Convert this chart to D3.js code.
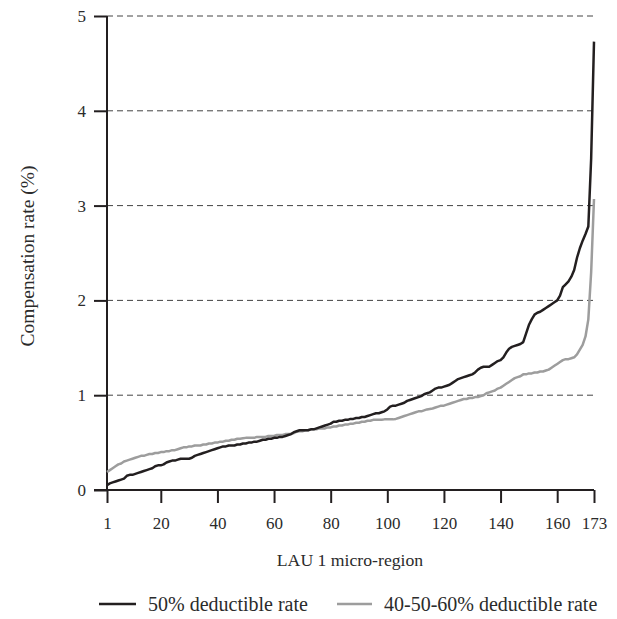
<!DOCTYPE html>
<html>
<head>
<meta charset="utf-8">
<script src="https://cdn.jsdelivr.net/npm/d3@7"></script>
<style>
  html, body { margin: 0; padding: 0; background: #fff; }
  svg { display: block; font-family: "Liberation Serif", "Times New Roman", serif; }
</style>
</head>
<body>
<svg id="chart" width="617" height="619"></svg>
<script>
// ---- data ----
const regions = d3.range(1, 174); // LAU 1 micro-regions 1..173 (sorted)
const xTickValues = [1, 20, 40, 60, 80, 100, 120, 140, 160, 173];
const yTickValues = [0, 1, 2, 3, 4, 5];
const seriesNames = ["50% deductible rate", "40-50-60% deductible rate"];

const rate50 = [
  0.05, 0.07, 0.08, 0.09, 0.10, 0.11, 0.12, 0.15, 0.16, 0.16,
  0.17, 0.18, 0.19, 0.20, 0.21, 0.22, 0.23, 0.25, 0.26, 0.26,
  0.27, 0.29, 0.30, 0.31, 0.31, 0.32, 0.33, 0.33, 0.33, 0.33,
  0.34, 0.36, 0.37, 0.38, 0.39, 0.40, 0.41, 0.42, 0.43, 0.44,
  0.45, 0.46, 0.46, 0.47, 0.47, 0.47, 0.48, 0.48, 0.49, 0.49,
  0.50, 0.50, 0.51, 0.51, 0.52, 0.53, 0.53, 0.54, 0.54, 0.55,
  0.55, 0.56, 0.56, 0.57, 0.58, 0.59, 0.61, 0.62, 0.63, 0.63,
  0.63, 0.63, 0.64, 0.64, 0.65, 0.66, 0.67, 0.68, 0.69, 0.70,
  0.72, 0.72, 0.73, 0.73, 0.74, 0.74, 0.75, 0.75, 0.76, 0.76,
  0.77, 0.77, 0.78, 0.79, 0.80, 0.81, 0.81, 0.82, 0.83, 0.85,
  0.88, 0.89, 0.89, 0.90, 0.91, 0.92, 0.94, 0.95, 0.96, 0.97,
  0.98, 0.99, 1.01, 1.02, 1.03, 1.05, 1.07, 1.08, 1.08, 1.09,
  1.10, 1.11, 1.13, 1.15, 1.17, 1.18, 1.19, 1.20, 1.21, 1.22,
  1.24, 1.27, 1.29, 1.30, 1.30, 1.30, 1.32, 1.34, 1.36, 1.37,
  1.40, 1.45, 1.49, 1.51, 1.52, 1.53, 1.54, 1.56, 1.65, 1.74,
  1.80, 1.85, 1.87, 1.88, 1.90, 1.92, 1.94, 1.96, 1.98, 2.00,
  2.05, 2.14, 2.17, 2.20, 2.25, 2.32, 2.45, 2.55, 2.63, 2.70,
  2.78, 3.50, 4.73
];

const rate405060 = [
  0.19, 0.21, 0.23, 0.25, 0.27, 0.28, 0.30, 0.31, 0.32, 0.33,
  0.34, 0.35, 0.36, 0.36, 0.37, 0.38, 0.38, 0.39, 0.39, 0.40,
  0.40, 0.41, 0.41, 0.42, 0.42, 0.43, 0.44, 0.45, 0.45, 0.46,
  0.46, 0.47, 0.47, 0.47, 0.48, 0.48, 0.49, 0.49, 0.50, 0.50,
  0.51, 0.51, 0.52, 0.52, 0.53, 0.53, 0.54, 0.54, 0.545, 0.55,
  0.55, 0.55, 0.55, 0.56, 0.56, 0.56, 0.56, 0.57, 0.57, 0.57,
  0.58, 0.58, 0.58, 0.59, 0.59, 0.59, 0.60, 0.615, 0.62, 0.62,
  0.63, 0.63, 0.64, 0.64, 0.64, 0.65, 0.65, 0.65, 0.66, 0.66,
  0.67, 0.67, 0.68, 0.68, 0.69, 0.69, 0.70, 0.70, 0.71, 0.71,
  0.72, 0.72, 0.73, 0.73, 0.74, 0.74, 0.74, 0.74, 0.745, 0.745,
  0.745, 0.745, 0.75, 0.76, 0.77, 0.78, 0.79, 0.80, 0.81, 0.82,
  0.83, 0.83, 0.84, 0.85, 0.855, 0.86, 0.87, 0.88, 0.89, 0.89,
  0.90, 0.91, 0.92, 0.93, 0.94, 0.95, 0.96, 0.96, 0.97, 0.97,
  0.98, 0.98, 0.99, 1.00, 1.02, 1.03, 1.04, 1.05, 1.07, 1.08,
  1.10, 1.12, 1.14, 1.16, 1.18, 1.19, 1.20, 1.22, 1.22, 1.23,
  1.23, 1.24, 1.24, 1.25, 1.25, 1.26, 1.27, 1.29, 1.31, 1.33,
  1.35, 1.37, 1.38, 1.38, 1.39, 1.40, 1.43, 1.48, 1.53, 1.62,
  1.80, 2.30, 3.07
];

// ---- layout ----
const svg = d3.select("#chart");
const plotLeft = 107, plotRight = 594, plotTop = 16, plotBottom = 490;
const ink = "#231f20";
const textInk = "#2b2b2b";
const greyLine = "#9d9d9d";
const tickFont = 17;

const x = d3.scaleLinear().domain([1, 173]).range([plotLeft, plotRight]);
const y = d3.scaleLinear().domain([0, 5]).range([plotBottom, plotTop]);

// gridlines
svg.append("g")
  .selectAll("line")
  .data(yTickValues.filter(v => v > 0))
  .join("line")
  .attr("x1", plotLeft).attr("x2", plotRight)
  .attr("y1", d => y(d)).attr("y2", d => y(d))
  .attr("stroke", "#444")
  .attr("stroke-width", 1)
  .attr("stroke-dasharray", "6,4");

// y axis
const yAxis = svg.append("g")
  .attr("transform", `translate(${plotLeft},0)`)
  .call(d3.axisLeft(y).tickValues(yTickValues).tickSize(13).tickPadding(8).tickFormat(d3.format("d")));
yAxis.select(".domain").attr("stroke", ink).attr("stroke-width", 2).attr("d", `M0,${plotTop}V${plotBottom}`);
yAxis.selectAll(".tick line").attr("stroke", ink).attr("stroke-width", 2);
yAxis.selectAll(".tick text").attr("fill", textInk).style("font-size", tickFont + "px")
  .style("font-family", "Liberation Serif, serif");

// x axis
const xAxis = svg.append("g")
  .attr("transform", `translate(0,${plotBottom})`)
  .call(d3.axisBottom(x).tickValues(xTickValues).tickSize(13).tickPadding(14).tickFormat(d3.format("d")));
xAxis.select(".domain").attr("stroke", ink).attr("stroke-width", 2).attr("d", `M${plotLeft - 13},0H${plotRight}`);
xAxis.selectAll(".tick line").attr("stroke", ink).attr("stroke-width", 2);
xAxis.selectAll(".tick text").attr("fill", textInk).style("font-size", tickFont + "px")
  .style("font-family", "Liberation Serif, serif");

// axis titles
svg.append("text")
  .attr("x", 350).attr("y", 566)
  .attr("text-anchor", "middle")
  .attr("fill", textInk)
  .style("font-size", "17.7px")
  .text("LAU 1 micro-region");

svg.append("text")
  .attr("transform", `translate(34,256) rotate(-90)`)
  .attr("text-anchor", "middle")
  .attr("fill", textInk)
  .style("font-size", "19.5px")
  .text("Compensation rate (%)");

// lines
const line = d3.line().x((d, i) => x(regions[i])).y(d => y(d));
svg.append("path").datum(rate405060)
  .attr("d", line).attr("fill", "none")
  .attr("stroke", greyLine).attr("stroke-width", 2.5).attr("stroke-linejoin", "round");
svg.append("path").datum(rate50)
  .attr("d", line).attr("fill", "none")
  .attr("stroke", ink).attr("stroke-width", 2.5).attr("stroke-linejoin", "round");

// legend
const legend = [
  { name: seriesNames[0], color: ink, x0: 99, x1: 136, tx: 148 },
  { name: seriesNames[1], color: greyLine, x0: 337, x1: 372, tx: 384 }
];
const lg = svg.append("g");
legend.forEach(l => {
  lg.append("line").attr("x1", l.x0).attr("x2", l.x1)
    .attr("y1", 604).attr("y2", 604)
    .attr("stroke", l.color).attr("stroke-width", 2.5);
  lg.append("text").attr("x", l.tx).attr("y", 611)
    .attr("fill", textInk).style("font-size", "20px")
    .text(l.name);
});
</script>
</body>
</html>
